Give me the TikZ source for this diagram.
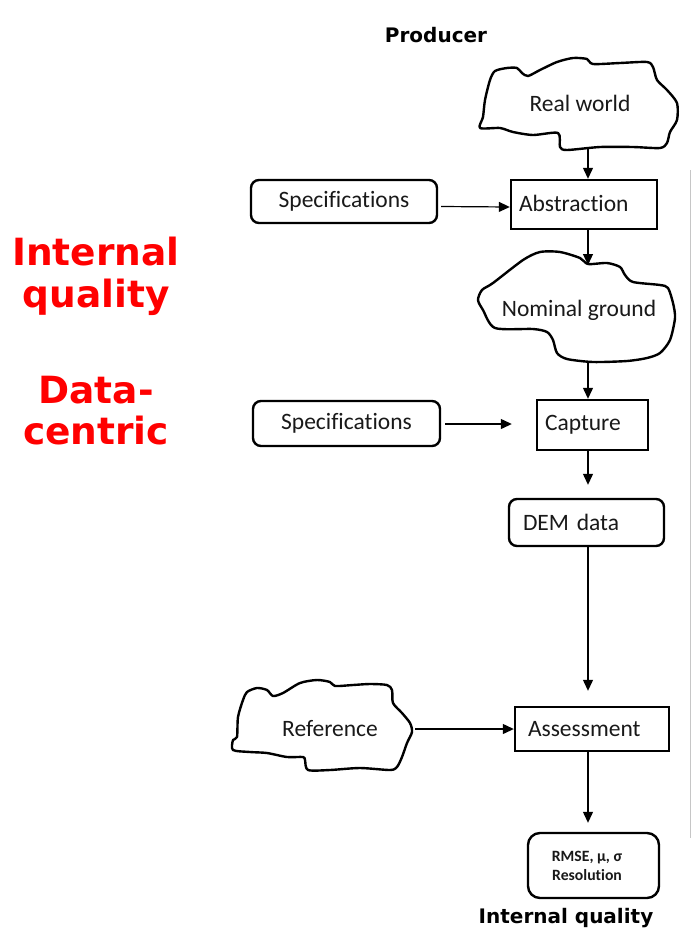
\documentclass[tikz,border=0pt]{standalone}
\usepackage{fontspec}
\setmainfont{Carlito}[Ligatures=NoCommon]
\newfontfamily\headfont{DejaVu Sans}
\usetikzlibrary{arrows.meta,calc}

\begin{document}
\begin{tikzpicture}[x=1pt,y=-1pt,
  every node/.style={font=\fontsize{23.5}{28}\selectfont, text=black!90},
  proc/.style={draw, line width=2.4pt, align=left, inner ysep=0pt},
  rbox/.style={draw, line width=2.4pt, rounded corners=8pt},
  cloudline/.style={line width=2.4pt, line join=round},
  arr/.style={line width=1.2pt, -{Triangle[length=11pt,width=10pt]}},
  headlbl/.style={font=\headfont\bfseries\fontsize{20}{24}\selectfont, text=black, anchor=base},
  redlbl/.style={font=\headfont\bfseries\fontsize{37.5}{41}\selectfont, text=red, anchor=base}
]
\useasboundingbox (0,0) rectangle (692,930);
\fill[white] (0,0) rectangle (692,930);

% side labels
\node[redlbl] (l1) at (96,265) {Internal};
\node[redlbl] (l2) at (96,307) {quality};
\node[redlbl] (l3) at (96,403) {Data-};
\node[redlbl] (l4) at (96,444) {centric};

\node[headlbl] (prod) at (436,42) {Producer};
\node[headlbl] (iq) at (566,923) {Internal quality};

% clouds
\draw[cloudline] plot[smooth cycle, tension=0.45] coordinates {
  (480,128) (483,117) (485,100) (490,80) (495,71) (507,68) (517,68) (522,73)
  (528,76) (540,70) (557,62) (573,58) (587,59) (593,64) (620,63) (647,62)
  (653,67) (657,80) (667,90) (677,103) (677,120) (670,132) (667,143) (660,148)
  (633,147) (600,147) (567,150) (560,147) (558,133) (533,135) (513,132) (500,128)};
\node (rw) at (580,103) {Real world};

\draw[cloudline] plot[smooth cycle, tension=0.45] coordinates {
  (523,260) (540,252) (560,252) (580,258) (588,264) (607,263) (620,267) (625,275)
  (633,282) (660,285) (668,288) (673,303) (675,318) (670,340) (660,353) (647,358)
  (627,361) (593,362) (567,359) (557,353) (553,340) (547,332) (533,329) (495,328)
  (483,310) (478,300) (482,290) (493,283)};
\node (ng) at (579,310) {Nominal ground};

\draw[cloudline] plot[smooth cycle, tension=0.45] coordinates {
  (233,750) (233,740) (237,737) (238,717) (243,700) (247,692) (257,688) (267,690)
  (273,696) (283,693) (300,683) (317,680) (330,682) (335,686) (353,685) (370,684)
  (387,685) (392,690) (393,703) (402,713) (410,723) (412,732) (407,743) (402,757)
  (397,767) (390,770) (360,768) (330,770) (308,770) (305,760) (303,757) (287,757)
  (267,753) (250,752)};
\node (ref) at (330,729) {Reference};

% boxes
\node[rbox, minimum width=186pt, minimum height=43pt] (spec1) at (344,201.5) {Specifications};
\node[rbox, minimum width=187pt, minimum height=45pt] (spec2) at (346.5,423.5) {Specifications};
\node[proc, text width=130pt, inner xsep=8pt, minimum height=49pt] (abs) at (584,204.5) {\raisebox{3pt}{Abstraction}};
\node[proc, text width=95pt, inner xsep=8pt, minimum height=50pt] (cap) at (592.5,425) {Capture};
\node[rbox, align=left, text width=127pt, inner xsep=14pt, minimum height=47pt] (dem) at (586.5,522.5) {DEM data};
\node[proc, text width=128pt, inner xsep=13pt, minimum height=44pt] (ass) at (592,729) {Assessment};
\node[rbox, rounded corners=12pt, minimum width=131pt, minimum height=65pt, align=center,
      font=\fontsize{15.7}{19}\selectfont\bfseries] (res) at (593.5,865.5)
      {RMSE, μ, σ\hspace*{13pt}\\Resolution\hspace*{13pt}};

% connectors
\coordinate (col) at (588,0);
\coordinate (rw-out) at (588,147);
\coordinate (ng-in) at (588,265);
\coordinate (ng-out) at (588,361);
\coordinate (ref-out) at (415,729);

\draw[arr] (rw-out) -- (rw-out |- abs.north);
\draw[arr] ($(spec1.east)+(3,5)$) -- ($(abs.west)+(0,2.5)$);
\draw[arr] (col |- abs.south) -- (ng-in);
\draw[arr] (ng-out) -- (col |- cap.north);
\draw[arr] ($(spec2.east)+(4,0.5)$) -- ($(cap.west)+(-24,-1)$);
\draw[arr] (col |- cap.south) -- ($(col |- dem.north)+(0,-13)$);
\draw[arr] (col |- dem.south) -- ($(col |- ass.north)+(0,-15)$);
\draw[arr] (ref-out) -- (ass.west);
\draw[arr] (col |- ass.south) -- ($(col |- res.north)+(0,-9)$);

% thin rule along the right edge
\draw[gray!45, line width=1.5pt] (690.5,170) -- (690.5,838);
\end{tikzpicture}
\end{document}
